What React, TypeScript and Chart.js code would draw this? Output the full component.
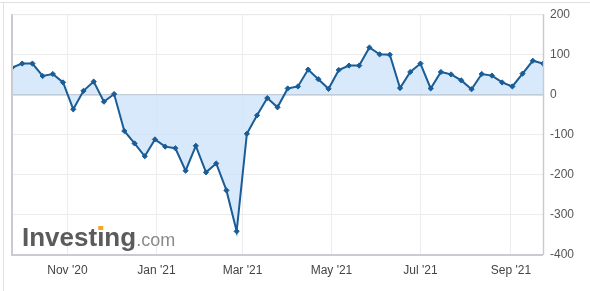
import React, { useEffect, useRef } from "react";
import { Chart, registerables } from "chart.js";

Chart.register(...registerables);

const dates: string[] = [
  "2020-09-24", "2020-10-01", "2020-10-08", "2020-10-15", "2020-10-22", "2020-10-29",
  "2020-11-05", "2020-11-12", "2020-11-19", "2020-11-26", "2020-12-03", "2020-12-10",
  "2020-12-17", "2020-12-24", "2020-12-31", "2021-01-07", "2021-01-14", "2021-01-21",
  "2021-01-28", "2021-02-04", "2021-02-11", "2021-02-18", "2021-02-25", "2021-03-04",
  "2021-03-11", "2021-03-18", "2021-03-25", "2021-04-01", "2021-04-08", "2021-04-15",
  "2021-04-22", "2021-04-29", "2021-05-06", "2021-05-13", "2021-05-20", "2021-05-27",
  "2021-06-03", "2021-06-10", "2021-06-17", "2021-06-24", "2021-07-01", "2021-07-08",
  "2021-07-15", "2021-07-22", "2021-07-29", "2021-08-05", "2021-08-12", "2021-08-19",
  "2021-08-26", "2021-09-02", "2021-09-09", "2021-09-16", "2021-09-23",
];

const values: number[] = [
  67, 77, 77, 46, 51, 30, -37, 9, 32, -18,
  1, -91, -122, -154, -112, -130, -134, -190, -128, -194,
  -172, -239, -341, -98, -52, -9, -32, 15, 20, 62,
  38, 14, 61, 72, 72, 117, 100, 99, 16, 56,
  77, 15, 56, 50, 35, 13, 51, 47, 30, 20,
  52, 84, 77,
];

const xTickDates: string[] = ["2020-11-01", "2021-01-01", "2021-03-01", "2021-05-01", "2021-07-01", "2021-09-01"];
const xTickLabels: string[] = ["Nov '20", "Jan '21", "Mar '21", "May '21", "Jul '21", "Sep '21"];
const yTicks: number[] = [-400, -300, -200, -100, 0, 100, 200];

const DAY = 86400000;
const t0 = Date.parse(dates[0] + "T00:00:00Z");
const dayOf = (d: string) => (Date.parse(d + "T00:00:00Z") - t0) / DAY;

const FONT = "'Liberation Sans', Arial, sans-serif";

const framePlugin = {
  id: "frame",
  beforeDraw(chart: any) {
    const { ctx, width, height } = chart;
    ctx.save();
    ctx.fillStyle = "#ffffff";
    ctx.fillRect(0, 0, width, height);
    ctx.strokeStyle = "#e0e0e0";
    ctx.lineWidth = 1;
    ctx.beginPath();
    ctx.moveTo(0, 2.5);
    ctx.lineTo(width, 2.5);
    ctx.moveTo(3.5, 2.5);
    ctx.lineTo(3.5, height);
    ctx.stroke();
    ctx.restore();
  },
  beforeDatasetsDraw(chart: any) {
    const { ctx, chartArea } = chart;
    const x = chartArea.left + 10;
    const y = chartArea.bottom - 9;
    ctx.save();
    ctx.textBaseline = "alphabetic";
    ctx.font = `bold 26px ${FONT}`;
    ctx.fillStyle = "#5b5b5b";
    const main = "Investing";
    ctx.fillText(main, x, y);
    const w = ctx.measureText(main).width;
    const pre = ctx.measureText("Invest").width;
    const iw = ctx.measureText("i").width;
    ctx.fillStyle = "#f5a623";
    ctx.fillRect(x + pre + iw / 2 - 2.5, y - 20, 5, 4);
    ctx.font = `18px ${FONT}`;
    ctx.fillStyle = "#8a8a8a";
    ctx.fillText(".com", x + w, y);
    ctx.restore();
  },
  afterDraw(chart: any) {
    const { ctx, chartArea } = chart;
    ctx.save();
    ctx.strokeStyle = "#e8e8e8";
    ctx.lineWidth = 1;
    ctx.beginPath();
    ctx.moveTo(chartArea.left, chartArea.top + 0.5);
    ctx.lineTo(chartArea.right, chartArea.top + 0.5);
    ctx.stroke();
    ctx.strokeStyle = "#c8ccd0";
    ctx.lineWidth = 2;
    ctx.beginPath();
    ctx.moveTo(chartArea.left, chartArea.top);
    ctx.lineTo(chartArea.left, chartArea.bottom);
    ctx.lineTo(chartArea.right, chartArea.bottom);
    ctx.stroke();
    ctx.lineWidth = 1.5;
    ctx.beginPath();
    ctx.moveTo(chartArea.right + 0.5, chartArea.top);
    ctx.lineTo(chartArea.right + 0.5, chartArea.bottom);
    ctx.stroke();
    ctx.restore();
  },
};

export default function App() {
  const ref = useRef<HTMLCanvasElement | null>(null);

  useEffect(() => {
    if (!ref.current) return;
    const points = dates.map((d, i) => ({ x: dayOf(d), y: values[i] }));
    const chart = new Chart(ref.current, {
      type: "line",
      data: {
        datasets: [
          {
            data: points,
            borderColor: "#1a5c96",
            backgroundColor: "rgba(205,228,250,0.8)",
            borderWidth: 2,
            fill: "origin",
            tension: 0,
            pointStyle: "rectRot",
            pointRadius: 2.6,
            pointBackgroundColor: "#1a5c96",
            pointBorderColor: "#1a5c96",
            pointBorderWidth: 1,
          },
        ],
      },
      options: {
        responsive: false,
        animation: false,
        layout: { padding: { left: 12, top: 12, right: 0, bottom: 0 } },
        plugins: {
          legend: { display: false },
          tooltip: { enabled: false },
        },
        scales: {
          x: {
            type: "linear",
            min: 0,
            max: dayOf(dates[dates.length - 1]),
            afterBuildTicks: (axis: any) => {
              axis.ticks = xTickDates.map((d) => ({ value: dayOf(d) }));
            },
            afterFit: (axis: any) => {
              axis.height = 36;
            },
            ticks: {
              autoSkip: false,
              maxRotation: 0,
              padding: 8,
              color: "#444",
              font: { family: FONT, size: 12 },
              callback: (v: any) => {
                const idx = xTickDates.findIndex((d) => Math.abs(dayOf(d) - Number(v)) < 0.01);
                return idx >= 0 ? xTickLabels[idx] : "";
              },
            },
            grid: { color: "#ececec", lineWidth: 1, drawTicks: false },
            border: { display: false },
          },
          y: {
            position: "right",
            min: -400,
            max: 200,
            afterBuildTicks: (axis: any) => {
              axis.ticks = yTicks.map((v) => ({ value: v }));
            },
            afterFit: (axis: any) => {
              axis.width = 47;
            },
            ticks: {
              padding: 7,
              color: "#555",
              font: { family: FONT, size: 12 },
              callback: (v: any) => String(v),
            },
            grid: {
              color: (c: any) => (c.tick && c.tick.value === 0 ? "#b8bcc0" : "#ececec"),
              lineWidth: (c: any) => (c.tick && c.tick.value === 0 ? 1.5 : 1),
              drawTicks: false,
            },
            border: { display: false },
          },
        },
      },
      plugins: [framePlugin],
    });
    return () => chart.destroy();
  }, []);

  return (
    <div style={{ position: "fixed", left: 0, top: 0, width: 590, height: 291 }}>
      <canvas ref={ref} width={590} height={291} style={{ display: "block" }} />
    </div>
  );
}
